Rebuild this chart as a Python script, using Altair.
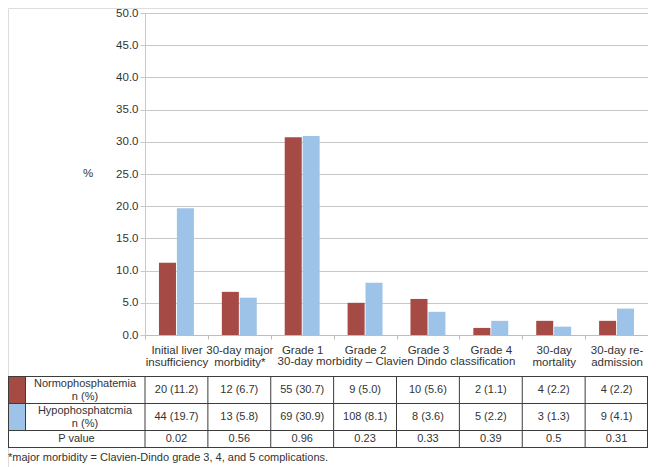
import altair as alt
import pandas as pd

# ---------------- data ----------------
categories = ["Initial liver|insufficiency", "30-day major|morbidity*", "Grade 1", "Grade 2",
              "Grade 3", "Grade 4", "30-day|mortality", "30-day re-|admission"]
span_label = "30-day morbidity \u2013 Clavien Dindo classification"
span_anchor = "Grade 3"
series = ["Normophosphatemia", "Hypophosphatcmia"]
normo_n = [20, 12, 55, 9, 10, 2, 4, 4]
normo_pct = [11.2, 6.7, 30.7, 5.0, 5.6, 1.1, 2.2, 2.2]
hypo_n = [44, 13, 69, 108, 8, 5, 3, 9]
hypo_pct = [19.7, 5.8, 30.9, 8.1, 3.6, 2.2, 1.3, 4.1]
p_values = ["0.02", "0.56", "0.96", "0.23", "0.33", "0.39", "0.5", "0.31"]
row_labels = ["Normophosphatemia|n (%)", "Hypophosphatcmia|n (%)", "P value"]
y_ticks = [0, 5, 10, 15, 20, 25, 30, 35, 40, 45, 50]
y_title = "%"
footnote = "*major morbidity = Clavien-Dindo grade 3, 4, and 5 complications."

# ---------------- layout / style ----------------
colors = ["#A64A45", "#9EC3E8"]
FONT = "Liberation Sans"
TXT = "#333333"
GRID = "#c8c8c8"
LINE = "#3c3c3c"
W, H = 640, 459
X0 = 137            # plot left edge
Y_TOP, Y_ZERO = 5, 327
T_TOP, T_R1, T_R2, T_BOT = 368.5, 395.5, 422.5, 439.5
SW = 17             # swatch column width
LH = 13             # table line height

bars_df = pd.DataFrame({
    "cat": categories * 2,
    "series": [series[0]] * len(categories) + [series[1]] * len(categories),
    "pct": normo_pct + hypo_pct,
})
table_df = pd.DataFrame({
    "cat": categories,
    "normo": [f"{n} ({p:.1f})" for n, p in zip(normo_n, normo_pct)],
    "hypo": [f"{n} ({p:.1f})" for n, p in zip(hypo_n, hypo_pct)],
    "pval": p_values,
})
one = pd.DataFrame({"k": [0]})

X_AXIS = alt.Axis(labelExpr="split(datum.label, '|')", labelAngle=0, labelFontSize=11.5,
                  labelColor=TXT, labelFont=FONT, labelLineHeight=12.5, labelPadding=5,
                  labelOverlap=False, tickBand="extent", tickSize=4, tickColor="#bdbdbd",
                  domainColor="#bdbdbd", offset=-(H - Y_ZERO), grid=False, title=None)


def xcat(**kw):
    return alt.X("cat:N", sort=categories, axis=X_AXIS, title=None, **kw)


bars = alt.Chart(bars_df).mark_bar().encode(
    x=xcat(scale=alt.Scale(range=[X0, W], paddingInner=0, paddingOuter=0)),
    xOffset=alt.XOffset("series:N", sort=series,
                        scale=alt.Scale(paddingInner=0.05, paddingOuter=0.78)),
    y=alt.Y("pct:Q", title=None,
            scale=alt.Scale(domain=[0, 50], range=[Y_ZERO, Y_TOP]),
            axis=alt.Axis(values=y_ticks, format=".1f", offset=-X0, grid=True, gridColor=GRID,
                          tickColor=GRID, tickSize=5, domainColor=GRID, labelPadding=2,
                          labelFontSize=11.5, labelColor=TXT, labelFont=FONT)),
    color=alt.Color("series:N", sort=series,
                    scale=alt.Scale(domain=series, range=colors), legend=None),
)

span = alt.Chart(table_df[table_df["cat"] == span_anchor]).mark_text(
    font=FONT, fontSize=11.5, color=TXT).encode(
    x=xcat(bandPosition=0), y=alt.value(354), text=alt.value(span_label))

ytitle = alt.Chart(one).mark_text(font=FONT, fontSize=11.5, color=TXT).encode(
    x=alt.value(80), y=alt.value(166), text=alt.value(y_title))

# table swatches
sw1 = alt.Chart(one).mark_rect(color=colors[0]).encode(
    x=alt.value(0.5), x2=alt.value(SW), y=alt.value(T_TOP), y2=alt.value(T_R1))
sw2 = alt.Chart(one).mark_rect(color=colors[1]).encode(
    x=alt.value(0.5), x2=alt.value(SW), y=alt.value(T_R1), y2=alt.value(T_R2))

# table lines
hlines = [alt.Chart(one).mark_rule(color=LINE, strokeWidth=1).encode(
    x=alt.value(0), x2=alt.value(W), y=alt.value(yy)) for yy in [T_TOP, T_R1, T_R2, T_BOT]]
vcat = alt.Chart(table_df).mark_rule(color=LINE, strokeWidth=1).encode(
    x=xcat(bandPosition=0), y=alt.value(T_TOP), y2=alt.value(T_BOT))
vedges = [
    alt.Chart(one).mark_rule(color=LINE, strokeWidth=1).encode(
        x=alt.value(0.5), y=alt.value(T_TOP), y2=alt.value(T_BOT)),
    alt.Chart(one).mark_rule(color=LINE, strokeWidth=1).encode(
        x=alt.value(W - 0.5), y=alt.value(T_TOP), y2=alt.value(T_BOT)),
    alt.Chart(one).mark_rule(color=LINE, strokeWidth=1).encode(
        x=alt.value(SW + 0.5), y=alt.value(T_TOP), y2=alt.value(T_R2)),
]


# row labels (multi-line text: first line at y, so shift up by half the extra lines)
def rowlabel(txt, xc, yc):
    nlines = txt.count("|") + 1
    return alt.Chart(one).mark_text(font=FONT, fontSize=11, color=TXT, lineBreak="|",
                                    lineHeight=LH).encode(
        x=alt.value(xc), y=alt.value(yc - (nlines - 1) * LH / 2), text=alt.value(txt))


rl = [
    rowlabel(row_labels[0], (SW + X0) / 2, (T_TOP + T_R1) / 2),
    rowlabel(row_labels[1], (SW + X0) / 2, (T_R1 + T_R2) / 2),
    rowlabel(row_labels[2], X0 / 2, (T_R2 + T_BOT) / 2),
]


def celltext(field, yc):
    return alt.Chart(table_df).mark_text(font=FONT, fontSize=11, color=TXT).encode(
        x=xcat(), y=alt.value(yc), text=f"{field}:N")


cells = [
    celltext("normo", (T_TOP + T_R1) / 2),
    celltext("hypo", (T_R1 + T_R2) / 2),
    celltext("pval", (T_R2 + T_BOT) / 2),
]

foot = alt.Chart(one).mark_text(font=FONT, fontSize=11, color=TXT, align="left").encode(
    x=alt.value(0), y=alt.value(450), text=alt.value(footnote))

chart = alt.layer(
    bars, span, ytitle, sw1, sw2, *hlines, vcat, *vedges, *rl, *cells, foot
).properties(
    width=W, height=H, padding=0,
    autosize=alt.AutoSizeParams(type="none"),
).configure_view(stroke=None).configure(background="white")

chart.save("out.html", embed_options={"renderer": "svg", "actions": False})
